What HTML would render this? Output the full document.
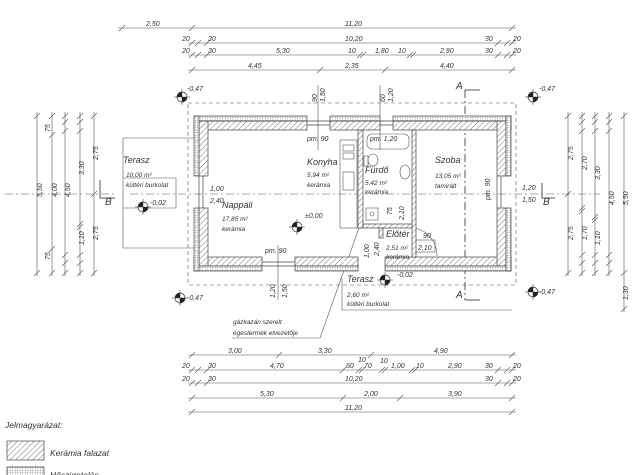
<!DOCTYPE html>
<html><head><meta charset="utf-8"><style>
html,body{margin:0;padding:0;background:#fff}
svg{display:block}
text{font-family:"Liberation Sans",sans-serif;font-style:italic;fill:#333}
</style></head><body>
<svg width="640" height="475" viewBox="0 0 640 475" xmlns="http://www.w3.org/2000/svg">
<defs>
<pattern id="h" width="4" height="4" patternUnits="userSpaceOnUse" patternTransform="rotate(45)"><rect width="4" height="4" fill="#fff"/><line x1="0" y1="0" x2="0" y2="4" stroke="#555" stroke-width="0.8"/></pattern>
<pattern id="g" width="2.5" height="2.5" patternUnits="userSpaceOnUse"><rect width="2.5" height="2.5" fill="#fff"/><path d="M0 0H2.5M0 0V2.5" stroke="#777" stroke-width="0.5"/></pattern>
</defs>
<g stroke="#555" stroke-width="0.6" fill="none">
<line x1="118" y1="28" x2="516" y2="28"/><line x1="188" y1="43" x2="516" y2="43"/><line x1="188" y1="55" x2="516" y2="55"/><line x1="188" y1="70" x2="516" y2="70"/>
<path d="M119 31l6-6M189 31l6-6M509 31l6-6M189 46l6-6M195 46l6-6M204 46l6-6M495 46l6-6M504 46l6-6M509 46l6-6M189 58l6-6M195 58l6-6M204 58l6-6M357 58l6-6M360 58l6-6M407 58l6-6M410 58l6-6M495 58l6-6M504 58l6-6M509 58l6-6M189 73l6-6M317 73l6-6M382 73l6-6M509 73l6-6"/>
<line x1="188" y1="355" x2="516" y2="355"/><line x1="188" y1="370" x2="516" y2="370"/><line x1="188" y1="383" x2="516" y2="383"/><line x1="188" y1="398" x2="516" y2="398"/><line x1="188" y1="412" x2="516" y2="412"/>
<path d="M189 358l6-6M276 358l6-6M368 358l6-6M509 358l6-6M189 373l6-6M195 373l6-6M204 373l6-6M340 373l6-6M356 373l6-6M359 373l6-6M379 373l6-6M382 373l6-6M409 373l6-6M412 373l6-6M495 373l6-6M504 373l6-6M509 373l6-6M189 386l6-6M195 386l6-6M204 386l6-6M495 386l6-6M504 386l6-6M509 386l6-6M189 401l6-6M340 401l6-6M397 401l6-6M509 401l6-6M189 415l6-6M509 415l6-6"/>
<line x1="37" y1="112" x2="37" y2="276"/><line x1="52" y1="112" x2="52" y2="276"/><line x1="65" y1="112" x2="65" y2="276"/><line x1="80" y1="112" x2="80" y2="276"/><line x1="94" y1="112" x2="94" y2="276"/>
<path d="M34 119l6-6M49 119l6-6M49 138l6-6M62 119l6-6M62 125l6-6M62 134l6-6M77 119l6-6M77 125l6-6M77 134l6-6M91 119l6-6M91 197l6-6M91 276l6-6M34 276l6-6M49 252l6-6M49 276l6-6M62 258l6-6M62 266l6-6M62 276l6-6M77 227l6-6M77 230l6-6M77 258l6-6M77 266l6-6M77 276l6-6"/>
<line x1="568" y1="112" x2="568" y2="276"/><line x1="582" y1="112" x2="582" y2="276"/><line x1="595" y1="112" x2="595" y2="276"/><line x1="609" y1="112" x2="609" y2="276"/><line x1="624" y1="112" x2="624" y2="312"/>
<path d="M565 119l6-6M565 197l6-6M565 276l6-6M579 119l6-6M579 125l6-6M579 134l6-6M579 211l6-6M579 214l6-6M579 258l6-6M579 266l6-6M579 276l6-6M592 119l6-6M592 125l6-6M592 134l6-6M592 220l6-6M592 223l6-6M592 258l6-6M592 266l6-6M592 276l6-6M606 119l6-6M606 125l6-6M606 134l6-6M606 258l6-6M606 266l6-6M606 276l6-6M621 119l6-6M621 276l6-6M621 312l6-6"/>
<rect x="188" y="103" width="328" height="182" stroke-dasharray="4,3"/>
<path d="M194 138H123V248H194"/>
<path d="M123 178H176V208H123"/>
<path d="M5 194H115M130 194H600" stroke-dasharray="8,3,2,3"/>
<path d="M100 180V198H115M542 183V198H555" stroke-width="1"/>
<path d="M465 90V300" stroke-dasharray="8,3,2,3" stroke-width="1"/>
<path d="M465 90H480M465 300H480" stroke-width="1"/>
<path d="M278 245V300M318 85V150M380 85V150"/>
<rect x="340" y="140" width="17" height="88"/>
<rect x="343" y="145" width="11" height="6"/><rect x="343" y="153" width="11" height="6"/>
<rect x="343" y="172" width="11" height="18"/>
<rect x="367" y="134" width="42" height="15" rx="5"/>
<ellipse cx="373" cy="160" rx="5" ry="6"/><rect x="364" y="156" width="4" height="10"/>
<ellipse cx="405" cy="172" rx="5" ry="7"/>
<rect x="366" y="208" width="12" height="12"/><circle cx="372" cy="214" r="2"/>
<path d="M415 228A28 28 0 0 1 437 256M415 228V256"/>
<rect x="415" y="240" width="20" height="12"/>
<path d="M232 338H320L360 225"/>
<path d="M342 278V310H512" />
</g>
<g stroke="#444" stroke-width="0.7">
<g fill="url(#h)">
<rect x="194" y="121" width="113" height="9"/><rect x="330" y="121" width="50" height="9"/><rect x="393" y="121" width="118" height="9"/>
<rect x="194" y="257" width="68" height="9"/><rect x="295" y="257" width="63" height="9"/><rect x="385" y="257" width="126" height="9"/>
<rect x="199" y="121" width="9" height="55"/><rect x="199" y="208" width="9" height="58"/>
<rect x="497" y="121" width="9" height="55"/><rect x="497" y="208" width="9" height="58"/>
<rect x="358" y="130" width="5" height="98"/><rect x="412" y="130" width="4" height="127"/><rect x="363" y="224" width="49" height="4"/><rect x="379" y="228" width="4" height="10"/>
</g>
<g fill="url(#g)">
<rect x="194" y="116" width="113" height="5"/><rect x="330" y="116" width="50" height="5"/><rect x="393" y="116" width="118" height="5"/>
<rect x="194" y="266" width="68" height="5"/><rect x="295" y="266" width="63" height="5"/><rect x="385" y="266" width="126" height="5"/>
<rect x="194" y="116" width="5" height="60"/><rect x="194" y="208" width="5" height="63"/>
<rect x="506" y="116" width="5" height="60"/><rect x="506" y="208" width="5" height="63"/>
</g>
<path d="M307 121H330M307 125H330M380 121H393M380 125H393M262 262H295M262 266H295M199 176V208M203 176V208M501 176V208M497 176V208" fill="none"/>
</g>
<g>
<g transform="translate(182,97)"><circle r="5" fill="#fff" stroke="#333" stroke-width="0.7"/><path d="M0 0V-5A5 5 0 0 0 -5 0ZM0 0V5A5 5 0 0 0 5 0Z" fill="#222"/><path d="M-8 0H8M0 -8V8" stroke="#333" stroke-width="0.5"/></g>
<g transform="translate(533,97)"><circle r="5" fill="#fff" stroke="#333" stroke-width="0.7"/><path d="M0 0V-5A5 5 0 0 0 -5 0ZM0 0V5A5 5 0 0 0 5 0Z" fill="#222"/><path d="M-8 0H8M0 -8V8" stroke="#333" stroke-width="0.5"/></g>
<g transform="translate(180,298)"><circle r="5" fill="#fff" stroke="#333" stroke-width="0.7"/><path d="M0 0V-5A5 5 0 0 0 -5 0ZM0 0V5A5 5 0 0 0 5 0Z" fill="#222"/><path d="M-8 0H8M0 -8V8" stroke="#333" stroke-width="0.5"/></g>
<g transform="translate(533,292)"><circle r="5" fill="#fff" stroke="#333" stroke-width="0.7"/><path d="M0 0V-5A5 5 0 0 0 -5 0ZM0 0V5A5 5 0 0 0 5 0Z" fill="#222"/><path d="M-8 0H8M0 -8V8" stroke="#333" stroke-width="0.5"/></g>
<g transform="translate(143,207)"><circle r="5" fill="#fff" stroke="#333" stroke-width="0.7"/><path d="M0 0V-5A5 5 0 0 0 -5 0ZM0 0V5A5 5 0 0 0 5 0Z" fill="#222"/><path d="M-8 0H8M0 -8V8" stroke="#333" stroke-width="0.5"/></g>
<g transform="translate(297,227)"><circle r="5" fill="#fff" stroke="#333" stroke-width="0.7"/><path d="M0 0V-5A5 5 0 0 0 -5 0ZM0 0V5A5 5 0 0 0 5 0Z" fill="#222"/><path d="M-8 0H8M0 -8V8" stroke="#333" stroke-width="0.5"/></g>
<g transform="translate(385,280)"><circle r="5" fill="#fff" stroke="#333" stroke-width="0.7"/><path d="M0 0V-5A5 5 0 0 0 -5 0ZM0 0V5A5 5 0 0 0 5 0Z" fill="#222"/><path d="M-8 0H8M0 -8V8" stroke="#333" stroke-width="0.5"/></g>
</g>
<g font-size="7">
<text x="146" y="26">2,50</text><text x="345" y="26">11,20</text>
<text x="182" y="41">20</text><text x="208" y="41">30</text><text x="345" y="41">10,20</text><text x="485" y="41">30</text><text x="513" y="41">20</text>
<text x="182" y="53">20</text><text x="208" y="53">30</text><text x="276" y="53">5,30</text><text x="348" y="53">10</text><text x="375" y="53">1,80</text><text x="398" y="53">10</text><text x="440" y="53">2,90</text><text x="485" y="53">30</text><text x="513" y="53">20</text>
<text x="248" y="68">4,45</text><text x="345" y="68">2,35</text><text x="440" y="68">4,40</text>
<text x="228" y="353">3,00</text><text x="318" y="353">3,30</text><text x="434" y="353">4,90</text>
<text x="182" y="368">20</text><text x="208" y="368">30</text><text x="270" y="368">4,70</text><text x="346" y="368">60</text><text x="358" y="362">10</text><text x="364" y="368">70</text><text x="380" y="363">10</text><text x="391" y="368">1,00</text><text x="416" y="368">10</text><text x="448" y="368">2,90</text><text x="485" y="368">30</text><text x="513" y="368">20</text>
<text x="182" y="381">20</text><text x="208" y="381">30</text><text x="345" y="381">10,20</text><text x="485" y="381">30</text><text x="513" y="381">20</text>
<text x="260" y="396">5,30</text><text x="364" y="396">2,00</text><text x="448" y="396">3,90</text>
<text x="345" y="410">11,20</text>
<text x="187" y="91">-0,47</text><text x="539" y="91">-0,47</text><text x="187" y="300">-0,47</text><text x="539" y="294">-0,47</text>
<text x="150" y="205">-0,02</text><text x="397" y="277">-0,02</text><text x="305" y="218">±0,00</text>
<text x="307" y="141">pm. 90</text><text x="370" y="141">pm. 1,20</text><text x="265" y="253">pm. 90</text>
<text x="210" y="191">1,00</text><text x="210" y="203">2,40</text>
<text x="522" y="190">1,20</text><text x="522" y="202">1,50</text>
<text x="423" y="238">90</text><text x="418" y="250">2,10</text>
</g>
<g font-size="9">
<text x="123" y="163">Terasz</text><text x="222" y="208">Nappali</text><text x="307" y="165">Konyha</text><text x="365" y="173">Fürdő</text><text x="435" y="163">Szoba</text><text x="386" y="237">Előtér</text><text x="347" y="282">Terasz</text>
<text x="456" y="89" font-size="10">A</text><text x="456" y="298" font-size="10">A</text><text x="105" y="205" font-size="10">B</text><text x="543" y="205" font-size="10">B</text>
</g>
<g font-size="6.5">
<text x="126" y="177">10,00 m²</text><text x="126" y="187">kültéri burkolat</text>
<text x="222" y="221">17,85 m²</text><text x="222" y="231">kerámia</text>
<text x="307" y="177">5,94 m²</text><text x="307" y="187">kerámia</text>
<text x="365" y="185">5,42 m²</text><text x="365" y="194">kerámia</text>
<text x="435" y="178">13,05 m²</text><text x="435" y="188">tamirált</text>
<text x="386" y="250">2,51 m²</text><text x="386" y="259">kerámia</text>
<text x="347" y="297">2,60 m²</text><text x="347" y="306">kültéri burkolat</text>
<text x="233" y="324">gázkazán szerelt</text><text x="233" y="335">égéstermék elvezetője</text>
</g>
<g font-size="7">
<text transform="translate(42,197) rotate(-90)">5,50</text><text transform="translate(57,197) rotate(-90)">4,00</text><text transform="translate(70,197) rotate(-90)">4,50</text><text transform="translate(84,175) rotate(-90)">3,30</text><text transform="translate(98,160) rotate(-90)">2,75</text><text transform="translate(98,240) rotate(-90)">2,75</text><text transform="translate(84,245) rotate(-90)">1,10</text>
<text transform="translate(50,132) rotate(-90)">75</text><text transform="translate(50,260) rotate(-90)">75</text>
<text transform="translate(573,160) rotate(-90)">2,75</text><text transform="translate(573,240) rotate(-90)">2,75</text><text transform="translate(587,170) rotate(-90)">2,70</text><text transform="translate(587,240) rotate(-90)">1,70</text><text transform="translate(600,180) rotate(-90)">3,30</text><text transform="translate(600,245) rotate(-90)">1,10</text><text transform="translate(614,205) rotate(-90)">4,50</text><text transform="translate(628,205) rotate(-90)">5,50</text><text transform="translate(628,300) rotate(-90)">1,30</text>
<text transform="translate(317,102) rotate(-90)">90</text><text transform="translate(325,102) rotate(-90)">1,50</text><text transform="translate(385,102) rotate(-90)">60</text><text transform="translate(393,102) rotate(-90)">1,20</text>
<text transform="translate(275,298) rotate(-90)">1,20</text><text transform="translate(287,298) rotate(-90)">1,50</text>
<text transform="translate(369,258) rotate(-90)">1,00</text><text transform="translate(379,256) rotate(-90)">2,40</text>
<text transform="translate(392,215) rotate(-90)">75</text><text transform="translate(404,220) rotate(-90)">2,10</text>
<text transform="translate(490,200) rotate(-90)">pm. 90</text>
</g>
<text x="5" y="428" font-size="8.5">Jelmagyarázat:</text>
<rect x="7" y="441" width="37" height="19" fill="url(#h)" stroke="#444" stroke-width="0.7"/>
<text x="50" y="456" font-size="8.5">Kerámia falazat</text>
<rect x="7" y="467" width="37" height="12" fill="url(#g)" stroke="#444" stroke-width="0.7"/>
<text x="50" y="478" font-size="8.5">Hőszigetelés</text>
</svg>
</body></html>
